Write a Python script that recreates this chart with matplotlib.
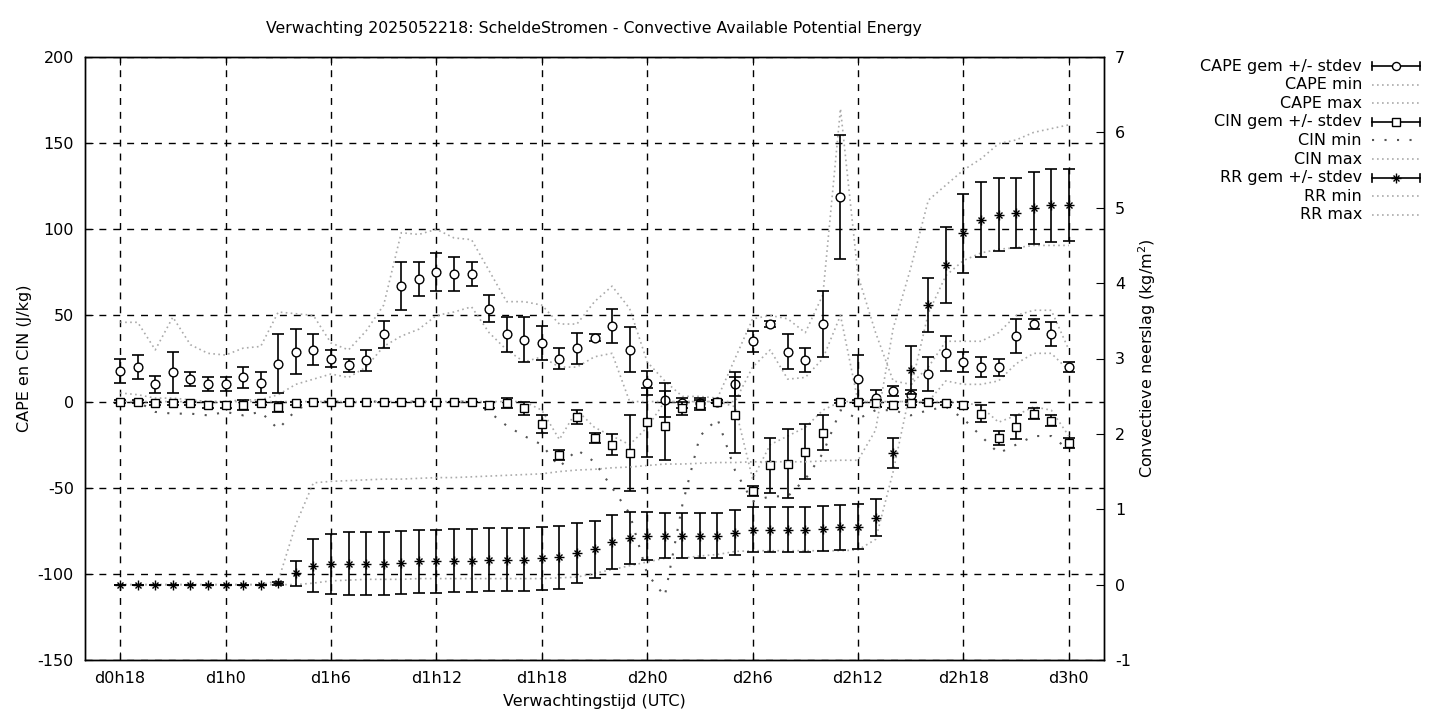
import matplotlib
matplotlib.use("Agg")
import matplotlib.pyplot as plt
from matplotlib.lines import Line2D
import numpy as np

hours = list(range(18, 73))
cape_mean = [18,20,10,17,13,10,10,14,11,22,29,30,25,21,24,39,67,71,75,74,74,54,39,36,34,25,31,37,44,30,
             11,1,-1,-1,0,10,35,45,29,24,45,119,13,2,6,4,16,28,23,20,20,38,45,39,20]
cape_sd = [7,7,5,12,4,4,4,6,6,17,13,9,5,4,6,8,14,10,11,10,7,8,10,13,10,6,9,2,10,13,
           7,10,3,3,1,7,6,2,10,7,19,36,14,5,3,3,10,10,6,6,5,10,3,7,3]
cape_min = [5,4,2,2,1,0,0,1,1,4,10,13,16,14,20,32,38,42,50,52,55,40,30,23,26,20,20,26,28,0,
            0,0,0,0,0,0,20,30,13,14,25,50,0,0,0,0,0,12,10,10,12,22,28,28,18]
cape_max = [46,46,30,49,33,28,27,31,32,52,51,50,34,30,41,56,98,97,100,95,94,76,58,58,56,45,45,58,67,54,
            23,12,3,3,2,25,48,50,48,40,62,170,73,40,12,10,20,35,35,35,40,50,53,53,30]
cin_mean = [0,0,-1,-1,-1,-2,-2,-2,-1,-3,-1,0,0,0,0,0,0,0,0,0,0,-2,-1,-4,-13,-31,-9,-21,-25,-30,
            -12,-14,-4,-2,0,-8,-52,-37,-36,-29,-18,0,0,-1,-2,-1,0,-1,-2,-7,-21,-15,-7,-11,-24]
cin_sd = [1,1,1,1,1,2,2,3,1,3,1,0,0,0,0,0,0,0,0,0,0,2,3,4,5,3,4,3,6,22,
          20,20,4,3,1,22,3,16,20,16,10,1,1,2,2,1,1,1,2,5,4,7,3,3,3]
cin_min = [0,0,-6,-7,-7,-8,-6,-8,-6,-16,-5,0,0,0,0,0,0,0,0,0,0,-6,-14,-20,-25,-38,-28,-35,-50,-65,
           -100,-113,-60,-20,-10,-40,-58,-55,-55,-45,-30,-5,-10,-5,-5,-8,-5,-3,-10,-20,-30,-25,-20,-20,-28]
cin_max = [0,0,0,0,0,0,0,0,0,0,0,0,0,0,0,0,0,0,0,0,0,0,0,0,-5,-22,-5,-15,-20,-25,
           -15,0,0,0,0,-3,-45,-25,-20,-15,-5,0,0,0,0,0,0,0,0,-3,-12,-8,-3,-5,-20]
rr_mean = [0,0,0,0,0,0,0,0,0,0.02,0.15,0.25,0.27,0.28,0.28,0.28,0.29,0.31,0.31,0.32,0.32,0.33,0.33,0.33,0.35,0.36,0.42,0.47,0.57,0.62,
           0.65,0.65,0.65,0.65,0.65,0.69,0.73,0.73,0.73,0.73,0.74,0.76,0.77,0.89,1.75,2.85,3.71,4.24,4.66,4.84,4.91,4.93,5.0,5.03,5.04]
rr_sd = [0,0,0,0,0,0,0,0,0,0.02,0.17,0.35,0.4,0.42,0.42,0.42,0.42,0.42,0.42,0.42,0.42,0.42,0.42,0.42,0.42,0.42,0.4,0.38,0.36,0.35,
         0.32,0.3,0.3,0.3,0.3,0.3,0.3,0.3,0.3,0.3,0.3,0.3,0.3,0.25,0.2,0.32,0.36,0.5,0.52,0.5,0.48,0.47,0.48,0.48,0.48]
rr_min = [0,0,0,0,0,0,0,0,0,0,0,0.02,0.05,0.06,0.07,0.07,0.07,0.08,0.08,0.08,0.08,0.08,0.08,0.08,0.08,0.09,0.1,0.15,0.2,0.25,
          0.3,0.35,0.35,0.38,0.4,0.44,0.45,0.45,0.45,0.45,0.45,0.45,0.46,0.6,1.5,2.6,3.6,4.1,4.3,4.4,4.45,4.47,4.5,4.5,4.5]
rr_max = [0,0,0,0,0,0,0,0,0,0.05,0.8,1.35,1.37,1.38,1.39,1.4,1.4,1.41,1.42,1.42,1.43,1.44,1.45,1.46,1.47,1.5,1.52,1.53,1.55,1.56,
          1.58,1.6,1.6,1.61,1.62,1.62,1.63,1.63,1.63,1.63,1.64,1.65,1.65,2.05,3.4,4.2,5.1,5.3,5.5,5.65,5.85,5.9,6.0,6.05,6.1]
xtick_hours = [18, 24, 30, 36, 42, 48, 54, 60, 66, 72]
xtick_labels = ["d0h18", "d1h0", "d1h6", "d1h12", "d1h18", "d2h0", "d2h6", "d2h12", "d2h18", "d3h0"]

plt.rcParams['font.family'] = 'DejaVu Sans'
plt.rcParams['font.size'] = 11
plt.rcParams['axes.unicode_minus'] = False
fig = plt.figure(figsize=(14.4, 7.2), dpi=100)
ax = fig.add_axes([85/1440, 1-660/720, (1104-85)/1440, (660-57)/720])
ax2 = ax.twinx()

grey = '#aaaaaa'
dot_grey = dict(color=grey, lw=1.2, ls=(0, (1, 2)))
dot_black = dict(color='#555555', lw=1.5, ls=(0, (1, 5)))

ax.plot(hours, cape_min, **dot_grey)
ax.plot(hours, cape_max, **dot_grey)
ax.plot(hours, cin_min, **dot_black)
ax.plot(hours, cin_max, **dot_grey)
ax2.plot(hours, rr_min, **dot_grey)
ax2.plot(hours, rr_max, **dot_grey)

eb = dict(fmt='none', ecolor='black', elinewidth=1.2, capsize=4, capthick=1.2)
ax.errorbar(hours, cape_mean, yerr=cape_sd, **eb)
ax.plot(hours, cape_mean, ls='none', marker='o', ms=6.3, mfc='white', mec='black', mew=1)
ax.errorbar(hours, cin_mean, yerr=cin_sd, **eb)
ax.plot(hours, cin_mean, ls='none', marker='s', ms=5.8, mfc='white', mec='black', mew=1)
ax2.errorbar(hours, rr_mean, yerr=rr_sd, **eb)
ax2.plot(hours, rr_mean, ls='none', marker='+', ms=6.5, color='black', mew=1)
ax2.plot(hours, rr_mean, ls='none', marker='x', ms=5, color='black', mew=1)

ax.set_xlim(16, 74)
ax.set_ylim(-150, 200)
ax2.set_ylim(-1, 7)
ax.set_xticks(xtick_hours)
ax.set_xticklabels(xtick_labels)
ax.set_yticks(range(-150, 201, 50))
ax2.set_yticks(range(-1, 8))
ax.tick_params(direction='in', length=6, top=True, labelsize=11.5, pad=8)
ax2.tick_params(direction='in', length=6, labelsize=11.5, pad=8)
ax.grid(True, color='black', ls=(0, (5, 5)), lw=1)
for a in (ax, ax2):
    for s in a.spines.values():
        s.set_linewidth(1)
ax.set_xlabel("Verwachtingstijd (UTC)", fontsize=11.5, labelpad=6)
ax.set_ylabel("CAPE en CIN (J/kg)", fontsize=11.5)
ax2.set_ylabel("Convectieve neerslag (kg/m$^2$)", fontsize=11.5)
fig.text(594/1440, 1-29/720, "Verwachting 2025052218: ScheldeStromen - Convective Available Potential Energy",
         ha='center', va='center', fontsize=11.3)

# legend
entries = [("CAPE gem +/- stdev", 'eb', 'o'), ("CAPE min", 'grey', None), ("CAPE max", 'grey', None),
           ("CIN gem +/- stdev", 'eb', 's'), ("CIN min", 'black', None), ("CIN max", 'grey', None),
           ("RR gem +/- stdev", 'eb', '*'), ("RR min", 'grey', None), ("RR max", 'grey', None)]
x0, x1, xt = 1372/1440, 1420/1440, 1362/1440
for i, (lab, kind, mk) in enumerate(entries):
    y = 1 - (66 + i*18.6)/720
    fig.text(xt, y, lab, ha='right', va='center', fontsize=11.5)
    if kind == 'eb':
        fig.add_artist(Line2D([x0, x1], [y, y], color='black', lw=1.2))
        for xx in (x0, x1):
            fig.add_artist(Line2D([xx, xx], [y-4/720, y+4/720], color='black', lw=1.2))
        xm = (x0+x1)/2
        if mk == '*':
            fig.add_artist(Line2D([xm], [y], marker='+', ms=6.5, color='black', mew=1))
            fig.add_artist(Line2D([xm], [y], marker='x', ms=5, color='black', mew=1))
        else:
            fig.add_artist(Line2D([xm], [y], marker=mk, ms=5.8, mfc='white', mec='black', mew=1))
    elif kind == 'grey':
        fig.add_artist(Line2D([x0, x1], [y, y], **dot_grey))
    else:
        fig.add_artist(Line2D([x0, x1], [y, y], **dot_black))

fig.savefig("out.png", dpi=100)
